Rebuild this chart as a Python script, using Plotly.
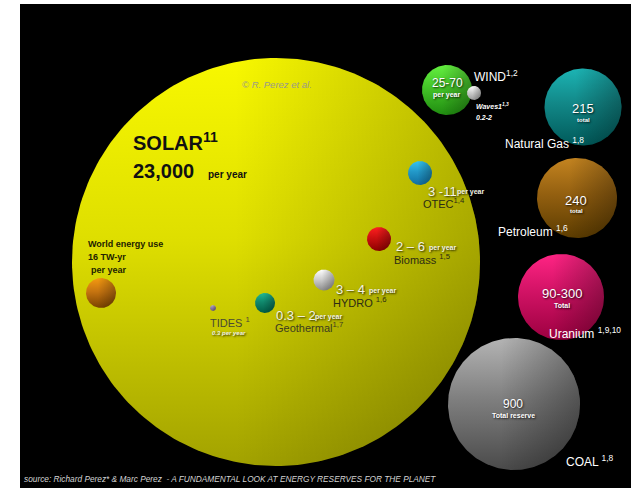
import numpy as np
import plotly.graph_objects as go

# ---- data ----
sources = ["Solar", "World energy use", "Tides", "Geothermal", "Hydro", "Biomass",
           "OTEC", "Wind", "Waves", "Natural Gas", "Petroleum", "Uranium", "Coal"]
value_labels = ["23,000", "16 TW-yr", "0.3", "0.3 – 2", "3 – 4", "2 – 6",
                "3 -11", "25-70", "0.2-2", "215", "240", "90-300", "900"]

# ---- bubble layout (pixel-like coordinates) ----
bub_x = [276, 101, 213, 265, 324, 379, 420, 447, 474, 583, 577, 561, 514]
bub_y = [262, 293, 308, 303, 280, 239, 173, 90, 93, 107, 198, 297, 404]
bub_r = [204, 15, 3, 10, 10.5, 12, 12, 25, 7, 38.5, 40, 43, 66]
light = ["#f8f800", "#f59a10", "#b8a8c8", "#20b894", "#ffffff", "#ff2020",
         "#34c4f0", "#64f040", "#ffffff", "#1cb4b4", "#c48420", "#ff2484", "#b4b4b4"]
mid = ["#dede00", "#c67410", "#9080a4", "#10886c", "#d0d0d0", "#cc1010",
       "#2298c8", "#44c428", "#d0d0d0", "#128888", "#946010", "#d01264", "#808080"]
dark = ["#a2a200", "#7a4200", "#6a5a80", "#005c46", "#8c8c8c", "#8c0000",
        "#106ea0", "#208c10", "#9a9a9a", "#005a5a", "#5c3c00", "#9c0040", "#4a4a4a"]
shade = [0.25, 0.3, 0.3, 0.3, 0.3, 0.3, 0.3, 0.3, 0.3, 0.3, 0.3, 0.3, 0.35]

fig = go.Figure()
theta = np.linspace(0, 2 * np.pi, 241)
for i in range(len(sources)):
    cx, cy, r = bub_x[i], bub_y[i], bub_r[i]
    xs = cx + r * np.cos(theta)
    ys = cy + r * np.sin(theta)
    fig.add_trace(go.Scatter(
        x=xs, y=ys, mode="lines", line=dict(width=0), fill="toself",
        fillgradient=dict(type="vertical",
                          colorscale=[[0, light[i]], [0.45, mid[i]], [1, dark[i]]],
                          start=cy - r, stop=cy + r),
        hoverinfo="skip", showlegend=False, name=sources[i]))
    fig.add_trace(go.Scatter(
        x=xs, y=ys, mode="lines", line=dict(width=0), fill="toself",
        fillgradient=dict(type="horizontal",
                          colorscale=[[0, "rgba(0,0,0,0)"], [0.4, "rgba(0,0,0,0)"],
                                      [1, f"rgba(0,0,0,{shade[i]})"]],
                          start=cx - r, stop=cx + r),
        hoverinfo="skip", showlegend=False))

FONT = "Liberation Sans"
SH = "1px 1px 2px rgba(0,0,0,0.8)"
ann = []


def A(x, y, text, size, color, xanchor="left", bold=False, italic=False, shadow=None, family=FONT):
    f = dict(family=family, size=size, color=color)
    if bold:
        f["weight"] = "bold"
    if italic:
        f["style"] = "italic"
    if shadow:
        f["shadow"] = shadow
    ann.append(dict(x=x, y=y, xref="x", yref="y", text=text, showarrow=False,
                    xanchor=xanchor, yanchor="middle", font=f))


A(277, 84, "© R. Perez et al.", 9.5, "#9a9a8a", xanchor="center", italic=True)
A(131, 141, "SOLAR<sup>11</sup>", 20, "#111111", bold=True)
A(131, 171, value_labels[0], 20, "#111111", bold=True)
A(206, 174, "per year", 10, "#111111", bold=True)
A(86, 244, "World energy use", 9, "#222200", bold=True)
A(86, 257, value_labels[1], 9, "#222200", bold=True)
A(89, 270, "per year", 9, "#222200", bold=True)

A(208, 322, "TIDES <sup>1</sup>", 11, "#4a4a34")
A(210, 333, value_labels[2] + " per year", 6, "#f4f4e0", bold=True, italic=True, shadow=SH)

A(274, 315, value_labels[3], 13, "#f4f4e4", shadow=SH)
A(313, 317, "per year", 7, "#f4f4e4", bold=True, shadow=SH)
A(273, 327, "Geothermal<sup>1,7</sup>", 11, "#3c3c20")

A(334, 289, value_labels[4], 13, "#f4f4e4", shadow=SH)
A(367, 291, "per year", 7, "#f4f4e4", bold=True, shadow=SH)
A(331, 302, "HYDRO <sup>1,6</sup>", 11, "#2c2c14")

A(394, 246, value_labels[5], 13, "#f4f4e4", shadow=SH)
A(427, 248, "per year", 7, "#f4f4e4", bold=True, shadow=SH)
A(392, 259, "Biomass <sup>1,5</sup>", 11, "#2c2c14")

A(426, 191, value_labels[6], 13, "#f4f4e4", shadow=SH)
A(455, 192, "per year", 7, "#f4f4e4", bold=True, shadow=SH)
A(421, 203, "OTEC<sup>1,4</sup>", 11, "#2c2c14")

A(447, 83, value_labels[7], 12, "#ffffff", xanchor="center", shadow=SH)
A(447, 95, "per year", 7, "#ffffff", xanchor="center", bold=True, shadow=SH)
A(472, 76, "WIND<sup>1,2</sup>", 12, "#ffffff")
A(474, 106, "Waves1<sup>1,3</sup>", 7, "#ffffff", bold=True, italic=True)
A(474, 117, value_labels[8], 7, "#ffffff", bold=True, italic=True)

A(583, 108, value_labels[9], 13, "#ffffff", xanchor="center", shadow=SH)
A(583, 120, "total", 6, "#ffffff", xanchor="center", bold=True, shadow=SH)
A(503, 143, "Natural Gas <sup>1,8</sup>", 12, "#ffffff")

A(576, 200, value_labels[10], 13, "#ffffff", xanchor="center", shadow=SH)
A(576, 211, "total", 6, "#ffffff", xanchor="center", bold=True, shadow=SH)
A(496, 231, "Petroleum <sup>1,6</sup>", 12, "#ffffff")

A(562, 293, value_labels[11], 13, "#ffffff", xanchor="center", shadow=SH)
A(562, 305, "Total", 7, "#ffffff", xanchor="center", bold=True, shadow=SH)
A(547, 333, "Uranium <sup>1,9,10</sup>", 12, "#ffffff")

A(513, 404, value_labels[12], 12, "#ffffff", xanchor="center", shadow=SH)
A(513, 415, "Total reserve", 7, "#ffffff", xanchor="center", bold=True, shadow=SH)
A(564, 461, "COAL <sup>1,8</sup>", 12, "#ffffff")

A(22, 479, "source: Richard Perez* & Marc Perez  - A FUNDAMENTAL LOOK AT ENERGY RESERVES FOR THE PLANET",
  8.3, "#d4d4d4", italic=True)

fig.update_layout(
    width=631, height=488,
    margin=dict(l=20, r=0, t=4, b=0, pad=0),
    paper_bgcolor="white", plot_bgcolor="black",
    xaxis=dict(range=[20, 631], visible=False, fixedrange=True),
    yaxis=dict(range=[488, 4], visible=False, fixedrange=True),
    annotations=ann, showlegend=False,
)
fig.write_html("out.html", config={"displayModeBar": False},
               post_script="document.body.style.margin='0px';document.body.style.overflow='hidden';")
